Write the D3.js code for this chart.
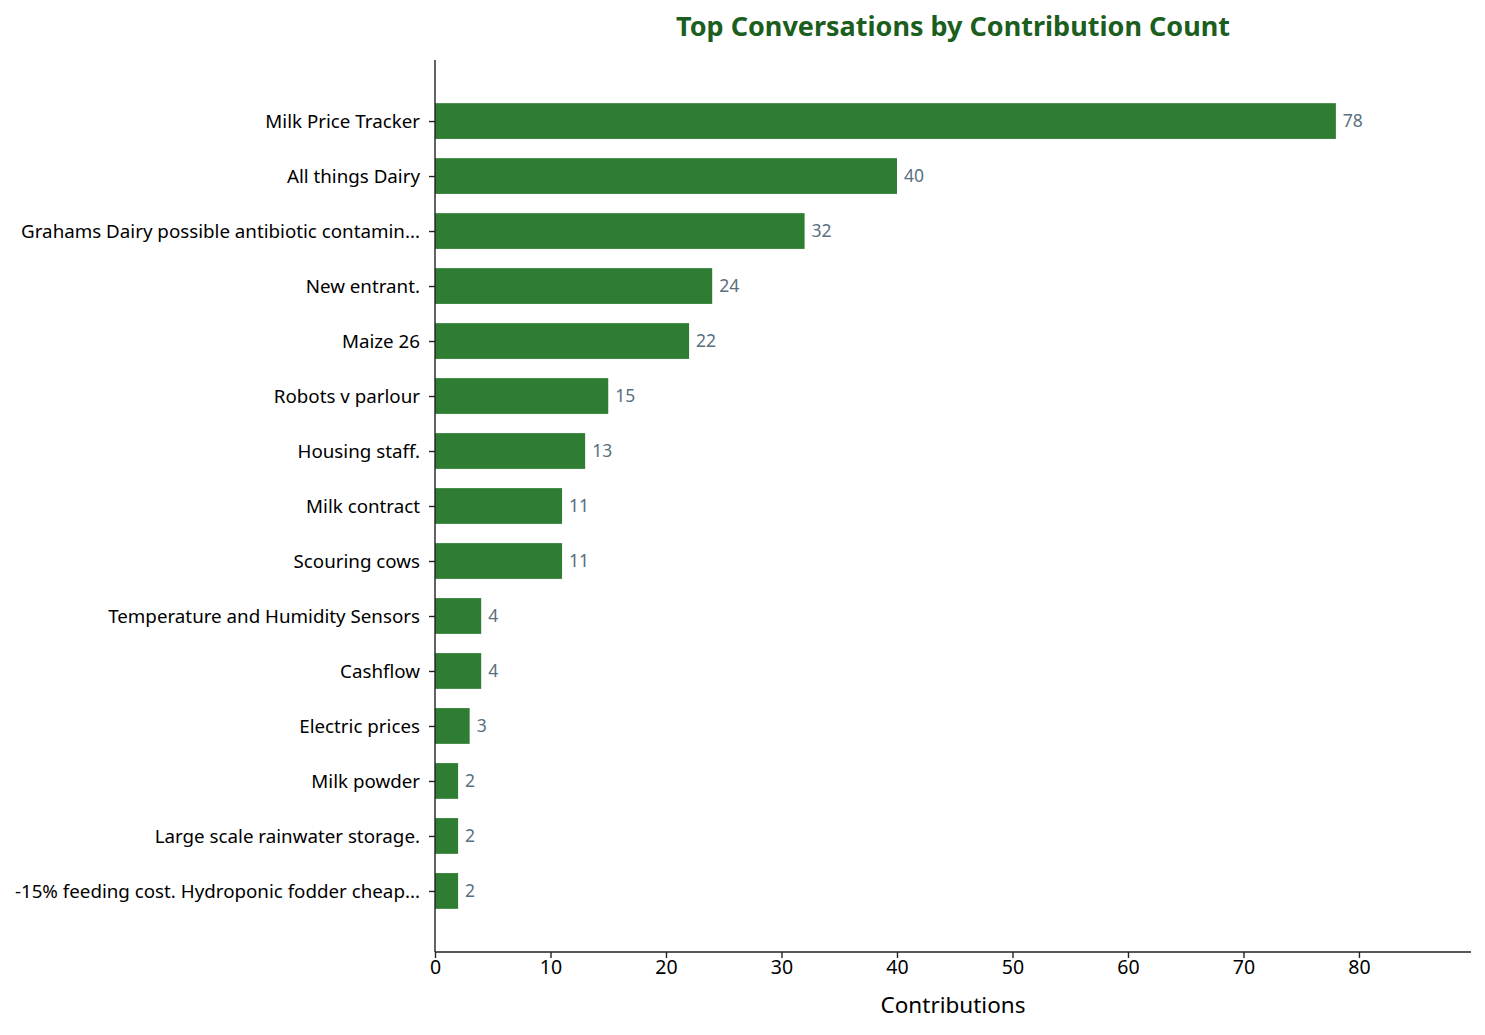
<!DOCTYPE html>
<html>
<head>
<meta charset="utf-8">
<script src="https://cdn.jsdelivr.net/npm/d3@7"></script>
<style>
  body { margin: 0; background: #fff; }
  text { font-family: "Noto Sans", "DejaVu Sans", sans-serif; }
</style>
</head>
<body>
<div id="svgContainer"></div>
<script>
// data
var topics = [
    "Milk Price Tracker",
    "All things Dairy",
    "Grahams Dairy possible antibiotic contamin...",
    "New entrant.",
    "Maize 26",
    "Robots v parlour",
    "Housing staff.",
    "Milk contract",
    "Scouring cows",
    "Temperature and Humidity Sensors",
    "Cashflow",
    "Electric prices",
    "Milk powder",
    "Large scale rainwater storage.",
    "-15% feeding cost. Hydroponic fodder cheap..."
];
var contributions = [78, 40, 32, 24, 22, 15, 13, 11, 11, 4, 4, 3, 2, 2, 2];
var xTicks = [0, 10, 20, 30, 40, 50, 60, 70, 80];

var width = 1485, height = 1035;
var margin = {top: 60, right: 14, bottom: 83, left: 435};

var svg = d3.select("#svgContainer")
    .append("svg")
    .attr("width", width)
    .attr("height", height);

var plotW = width - margin.left - margin.right;
var plotH = height - margin.top - margin.bottom;

var g = svg.append("g")
    .attr("transform", "translate(" + margin.left + "," + margin.top + ")");

// x scale, padded like matplotlib (max * 1.15)
var x = d3.scaleLinear()
    .domain([0, d3.max(contributions) * 1.15])
    .range([0, plotW]);

// y: index position, with extra room above / below
var n = topics.length;
var y = d3.scaleLinear()
    .domain([-1.11, n - 1 + 1.11])
    .range([0, plotH]);
var barH = y(0.65) - y(0);

g.selectAll("rect.bar")
    .data(contributions)
    .enter().append("rect")
    .attr("class", "bar")
    .attr("x", x(0))
    .attr("y", function(d, i) { return y(i) - barH / 2; })
    .attr("width", function(d) { return x(d) - x(0); })
    .attr("height", barH)
    .style("fill", "#2e7d32");

// value labels
g.selectAll("text.val")
    .data(contributions)
    .enter().append("text")
    .attr("class", "val")
    .attr("x", function(d) { return x(d) + 7; })
    .attr("y", function(d, i) { return y(i); })
    .attr("dy", "0.33em")
    .style("font-size", "17.5px")
    .style("fill", "#587080")
    .text(function(d) { return d; });

// x axis
var xAxis = g.append("g")
    .attr("transform", "translate(0," + plotH + ")")
    .call(d3.axisBottom(x).tickValues(xTicks).tickSize(6).tickPadding(2));
xAxis.selectAll("text").style("font-size", "19.5px").style("fill", "#000");

// y axis
var yAxis = g.append("g")
    .call(d3.axisLeft(y)
        .tickValues(d3.range(n))
        .tickFormat(function(i) { return topics[i]; })
        .tickSize(6).tickPadding(9));
yAxis.selectAll("text").style("font-size", "18.75px").style("fill", "#000").attr("dy", "0.35em");

[xAxis, yAxis].forEach(function(a) {
    a.selectAll("path.domain").style("stroke", "#222").style("stroke-width", 1.4);
    a.selectAll(".tick line").style("stroke", "#222").style("stroke-width", 1.4);
});
// no outer ticks on the spines
xAxis.select("path.domain").attr("d", "M0,0H" + plotW);
yAxis.select("path.domain").attr("d", "M0,0V" + plotH);

// axis label
svg.append("text")
    .attr("x", margin.left + plotW / 2)
    .attr("y", 1013)
    .attr("text-anchor", "middle")
    .style("font-size", "22.5px")
    .style("fill", "#000")
    .text("Contributions");

// title
svg.append("text")
    .attr("x", margin.left + plotW / 2)
    .attr("y", 36)
    .attr("text-anchor", "middle")
    .style("font-size", "27px")
    .style("font-weight", "bold")
    .style("fill", "#1b5e20")
    .text("Top Conversations by Contribution Count");
</script>
</body>
</html>
